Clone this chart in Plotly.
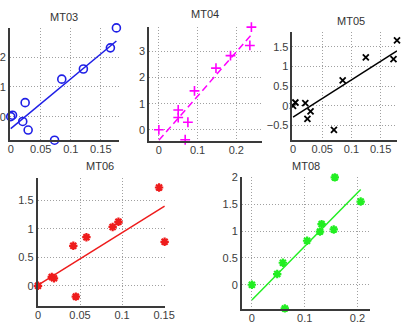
import plotly.graph_objects as go

W, H = 407, 328

# ---- data ----
mt03_x = [0.176, 0.166, 0.121, 0.085, 0.024, 0.000, 0.003, 0.020, 0.029, 0.073]
mt03_y = [2.98, 2.31, 1.60, 1.26, 0.47, 0.00, 0.05, -0.16, -0.45, -0.79]

mt04_x = [0.239, 0.235, 0.185, 0.1475, 0.092, 0.050, 0.050, 0.075, 0.000, 0.068]
mt04_y = [3.93, 3.23, 2.84, 2.36, 1.49, 0.76, 0.47, 0.29, 0.00, -0.38]

mt05_x = [0.1246, 0.172, 0.085, 0.004, 0.000, 0.021, 0.030, 0.0246, 0.070, 0.178]
mt05_y = [1.235, 1.19, 0.65, 0.085, 0.00, 0.07, -0.14, -0.33, -0.61, 1.67]

mt06_x = [0.144, 0.1506, 0.0957, 0.0888, 0.0576, 0.042, 0.0164, 0.019, 0.000, 0.045]
mt06_y = [1.72, 0.77, 1.12, 1.03, 0.85, 0.70, 0.155, 0.13, 0.00, -0.19]

mt08_x = [0.157, 0.206, 0.155, 0.132, 0.129, 0.1046, 0.0587, 0.048, 0.000, 0.0624]
mt08_y = [2.00, 1.55, 1.03, 1.13, 0.99, 0.82, 0.41, 0.20, 0.00, -0.44]

# fitted lines (intercept, slope)
fit_intercept = [-0.40, -0.40, -0.29, 0.01, -0.285]
fit_slope = [16.7, 16.9, 9.5, 9.2, 10.0]

titles = ["MT03", "MT04", "MT05", "MT06", "MT08"]
xs = [mt03_x, mt04_x, mt05_x, mt06_x, mt08_x]
ys = [mt03_y, mt04_y, mt05_y, mt06_y, mt08_y]

x_ticks = [[0, 0.05, 0.1, 0.15], [0, 0.1, 0.2], [0, 0.05, 0.1, 0.15],
           [0, 0.05, 0.1, 0.15], [0, 0.1, 0.2]]
y_ticks = [[0, 1, 2], [0, 1, 2, 3], [-0.5, 0, 0.5, 1, 1.5],
           [0, 0.5, 1, 1.5], [0, 0.5, 1, 1.5, 2]]

# ---- layout / style ----
# pixel boxes: (left, right, top, bottom)
boxes = [(7, 120, 22, 137), (151, 268, 21, 137.3), (299, 407, 26.7, 136),
         (35.7, 167.3, 175, 306), (246.7, 379.3, 174.3, 308.3)]
x_ranges = [[-0.0016, 0.1806], [-0.025, 0.2675], [-0.001, 0.1780],
            [-0.0005, 0.1510], [-0.019, 0.224]]
y_ranges = [[-0.80, 2.99], [-0.42, 3.95], [-0.858, 1.875],
            [-0.361, 1.89], [-0.445, 2.005]]
title_pos = [(63.5, 10.7), (209, 8.3), (359.3, 15), (100, 163.3), (313, 163.3)]

colors = ["#1f1fe6", "#ff00ff", "#000000", "#ee1c1c", "#22ee22"]
symbols = ["circle-open", "cross-thin-open", "x-thin-open", "asterisk-open", "asterisk-open"]
msizes = [8, 7, 6, 7, 7]
mlw = [1.6, 1.6, 1.8, 2.2, 2.2]
dashes = ["solid", "7px,4px", "solid", "solid", "solid"]

fig = go.Figure()
FONT = "Liberation Sans, Arial, sans-serif"

for i in range(5):
    xa = "x" if i == 0 else f"x{i+1}"
    ya = "y" if i == 0 else f"y{i+1}"
    fig.add_trace(go.Scatter(
        x=xs[i], y=ys[i], mode="markers", xaxis=xa, yaxis=ya,
        marker=dict(symbol=symbols[i], size=msizes[i], color=colors[i],
                    line=dict(color=colors[i], width=mlw[i])),
        cliponaxis=False, showlegend=False))
    x0, x1 = 0.0, max(xs[i])
    fig.add_trace(go.Scatter(
        x=[x0, x1],
        y=[fit_intercept[i] + fit_slope[i] * x0, fit_intercept[i] + fit_slope[i] * x1],
        mode="lines", xaxis=xa, yaxis=ya,
        line=dict(color=colors[i], width=1.5, dash=dashes[i]),
        cliponaxis=False, showlegend=False))

    l, r, t, b = boxes[i]
    axkw = dict(showline=True, linecolor="#3a3a3a", linewidth=1.6,
                showgrid=True, gridcolor="#a0a0a0", griddash="1px,2px", gridwidth=1,
                zeroline=False, ticks="", tickfont=dict(family=FONT, size=11, color="#3c3c3c"))
    xkey = "xaxis" if i == 0 else f"xaxis{i+1}"
    ykey = "yaxis" if i == 0 else f"yaxis{i+1}"
    fig.layout[xkey] = dict(domain=[l / W, r / W], range=x_ranges[i], anchor=ya,
                            tickvals=x_ticks[i], ticklabelstandoff=-2, **axkw)
    fig.layout[ykey] = dict(domain=[1 - b / H, 1 - t / H], range=y_ranges[i], anchor=xa,
                            tickvals=y_ticks[i], **axkw)
    tx, ty = title_pos[i]
    fig.add_annotation(text=titles[i], x=tx / W, y=1 - ty / H, xref="paper", yref="paper",
                       showarrow=False, xanchor="center", yanchor="middle",
                       font=dict(family=FONT, size=11, color="#333333"))

fig.update_layout(width=W, height=H, margin=dict(l=0, r=0, t=0, b=0),
                  paper_bgcolor="white", plot_bgcolor="white")

fig.write_html("out.html")
